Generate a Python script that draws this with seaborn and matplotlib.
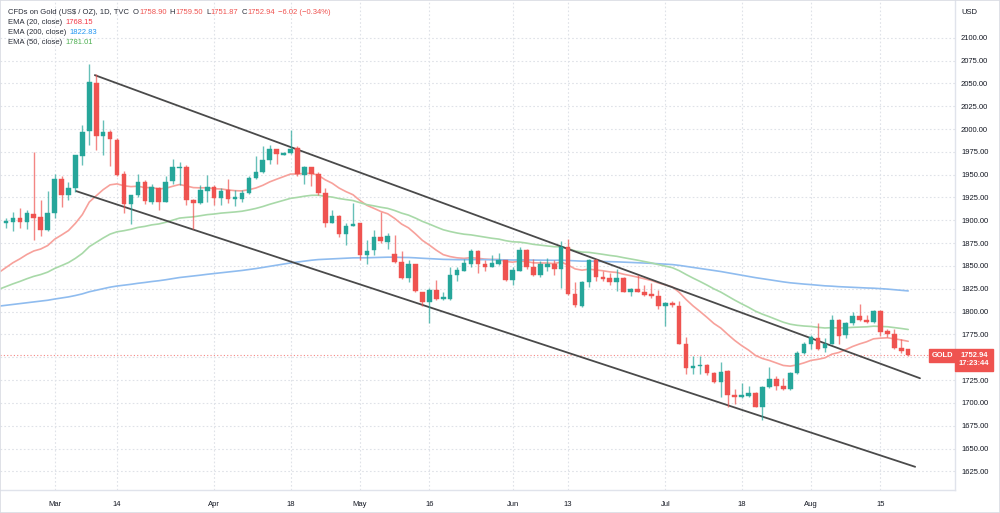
import numpy as np
import pandas as pd
import matplotlib
matplotlib.use("Agg")
import matplotlib.pyplot as plt
import seaborn as sns

# ---------------- data (daily candles, Feb 18 2022 -> Aug 19 2022) ----------------
opens = [1897, 1898, 1903, 1898, 1907, 1904, 1889, 1908, 1945, 1928,
         1935, 1970, 1998, 2050, 1992, 1997, 1988, 1951, 1918, 1928,
         1942, 1920, 1935, 1920, 1943, 1957, 1958, 1922, 1919, 1932,
         1937, 1924, 1933, 1923, 1923, 1930, 1946, 1953, 1966, 1978,
         1972, 1974, 1979, 1950, 1958, 1951, 1930, 1897, 1905, 1885,
         1894, 1897, 1862, 1867, 1882, 1876, 1863, 1854, 1837, 1852,
         1822, 1811, 1824, 1814, 1814, 1840, 1845, 1852, 1866, 1852,
         1849, 1852, 1857, 1835, 1845, 1868, 1849, 1840, 1849, 1852,
         1847, 1871, 1819, 1806, 1832, 1857, 1838, 1837, 1832, 1837,
         1822, 1825, 1822, 1819, 1817, 1806, 1809, 1806, 1764, 1738,
         1740, 1742, 1733, 1723, 1735, 1709, 1706, 1708, 1711, 1696,
         1717, 1726, 1719, 1715, 1733, 1755, 1764, 1771, 1760, 1765,
         1791, 1774, 1788, 1795, 1791, 1789, 1801, 1779, 1775, 1760,
         1758.90]
highs = [1902, 1909, 1913, 1911, 1975, 1922, 1932, 1951, 1948, 1942,
         1972, 2004, 2071, 2060, 2010, 1999, 1990, 1954, 1928, 1951,
         1944, 1940, 1936, 1948, 1967, 1964, 1961, 1923, 1939, 1950,
         1939, 1935, 1945, 1933, 1933, 1948, 1970, 1981, 1983, 1978,
         1975, 1999, 1981, 1959, 1958, 1953, 1935, 1911, 1906, 1897,
         1919, 1897, 1878, 1889, 1909, 1886, 1884, 1866, 1857, 1852,
         1822, 1826, 1835, 1822, 1849, 1849, 1858, 1869, 1867, 1856,
         1862, 1864, 1857, 1849, 1871, 1869, 1858, 1855, 1859, 1856,
         1877, 1879, 1832, 1834, 1858, 1858, 1845, 1842, 1847, 1838,
         1826, 1840, 1829, 1831, 1824, 1810, 1812, 1812, 1772, 1751,
         1751, 1743, 1734, 1745, 1736, 1715, 1722, 1718, 1712, 1718,
         1739, 1730, 1727, 1734, 1757, 1767, 1774, 1787, 1771, 1796,
         1792, 1789, 1800, 1808, 1796, 1802, 1802, 1781, 1781, 1770,
         1759.50]
lows = [1892, 1888, 1892, 1890, 1878, 1883, 1888, 1902, 1915, 1922,
        1931, 1961, 1982, 1977, 1972, 1960, 1949, 1908, 1896, 1926,
        1918, 1918, 1911, 1920, 1940, 1939, 1917, 1891, 1918, 1920,
        1917, 1917, 1919, 1916, 1920, 1929, 1945, 1952, 1962, 1962,
        1971, 1973, 1948, 1940, 1938, 1928, 1893, 1897, 1882, 1873,
        1894, 1857, 1852, 1862, 1875, 1869, 1853, 1836, 1832, 1822,
        1806, 1787, 1813, 1813, 1813, 1833, 1844, 1849, 1842, 1844,
        1849, 1851, 1834, 1829, 1844, 1847, 1839, 1838, 1845, 1840,
        1826, 1818, 1805, 1805, 1827, 1834, 1833, 1829, 1823, 1821,
        1817, 1821, 1817, 1815, 1803, 1784, 1805, 1764, 1732, 1732,
        1732, 1731, 1722, 1706, 1696, 1699, 1705, 1706, 1695, 1681,
        1716, 1714, 1714, 1714, 1732, 1754, 1759, 1758, 1756, 1764,
        1765, 1771, 1785, 1790, 1787, 1787, 1773, 1772, 1759, 1755,
        1751.87]
closes = [1899, 1903, 1898, 1908, 1903, 1889, 1908, 1945, 1928, 1935,
          1972, 1997, 2051, 1992, 1997, 1989, 1950, 1918, 1928, 1942,
          1921, 1936, 1920, 1942, 1958, 1958, 1922, 1919, 1933, 1937,
          1924, 1932, 1923, 1925, 1930, 1946, 1953, 1966, 1978, 1973,
          1974, 1978, 1951, 1958, 1951, 1930, 1897, 1905, 1885, 1894,
          1896, 1862, 1866, 1882, 1877, 1883, 1854, 1837, 1852, 1823,
          1810, 1824, 1814, 1816, 1840, 1846, 1853, 1866, 1852, 1849,
          1853, 1857, 1835, 1846, 1868, 1849, 1840, 1852, 1852, 1847,
          1871, 1819, 1807, 1832, 1857, 1838, 1836, 1832, 1837, 1822,
          1825, 1822, 1818, 1817, 1806, 1809, 1807, 1764, 1738, 1740,
          1742, 1733, 1723, 1734, 1709, 1706, 1709, 1711, 1696, 1717,
          1726, 1718, 1715, 1733, 1755, 1765, 1772, 1759, 1765, 1791,
          1773, 1788, 1795, 1791, 1789, 1801, 1778, 1775, 1760, 1757,
          1752.94]

tick_pos = [7, 16, 30, 41, 51, 61, 73, 81, 95, 106, 116, 126]
tick_labels = ["Mar", "14", "Apr", "18", "May", "16", "Jun", "13", "Jul", "18", "Aug", "15"]
price_ticks = list(range(1625, 2101, 25))

ema_names = ["EMA (20, close)", "EMA (200, close)", "EMA (50, close)"]
ema_periods = [20, 200, 50]
ema_seeds = [1843.0, 1806.0, 1824.5]          # EMA values just before the first bar
ema_colors = ["#f7a19b", "#8fbcef", "#a8d9a8"]
ema_legend = ["1768.15", "1822.83", "1781.01"]
ema_legend_colors = ["#f23645", "#2196f3", "#4caf50"]

channel_upper_x = [12.8, 131.7]
channel_upper_y = [2059.0, 1727.0]
channel_lower_x = [10.1, 131.0]
channel_lower_y = [1932.0, 1630.0]

last_price = 1752.94
change_text = "\u22126.02 (\u22120.34%)"
countdown = "17:23:44"

# ---------------- drawing ----------------
W, H = 1000, 513
sns.set_theme(style="white")
plt.rcParams["font.family"] = ["Liberation Sans", "DejaVu Sans"]
fig = plt.figure(figsize=(W / 100, H / 100), dpi=100)
fig.patch.set_facecolor("white")

AX_R = 955.0     # right edge of the price pane, px
AX_B = 489.6     # bottom edge of the price pane, px
ax = fig.add_axes([0.0, 1 - AX_B / H, AX_R / W, AX_B / H])
ax.set_facecolor("white")

n = len(closes)
idx = np.arange(n)
o = np.array(opens, float); c = np.array(closes, float)
hi = np.array(highs, float); lo = np.array(lows, float)
up = c >= o
green, red = "#26a69a", "#ef5350"
cols = np.where(up, green, red)

grid_c = "#dfe2e8"
for p in price_ticks:
    ax.axhline(p, color=grid_c, lw=0.8, ls=(0, (1.5, 2)), zorder=0)
for t in tick_pos:
    ax.axvline(t, color=grid_c, lw=0.8, ls=(0, (1.5, 2)), zorder=0)

# EMAs
for period, seed, col in zip(ema_periods, ema_seeds, ema_colors):
    a = 2.0 / (period + 1)
    vals = [seed]
    for v in c:
        vals.append(a * v + (1 - a) * vals[-1])
    df = pd.DataFrame({"x": np.arange(-1, n), "y": vals})
    sns.lineplot(data=df, x="x", y="y", ax=ax, color=col, lw=1.2, zorder=2, legend=False)

# channel lines
ax.plot(channel_upper_x, channel_upper_y, color="#4a4a4a", lw=1.3, zorder=3)
ax.plot(channel_lower_x, channel_lower_y, color="#4a4a4a", lw=1.3, zorder=3)

# candles
ax.vlines(idx, lo, hi, colors=cols, lw=1.0, alpha=0.7, zorder=4)
body_h = np.abs(c - o)
body_h = np.where(body_h < 0.8, 0.8, body_h)
ax.bar(idx, body_h, bottom=np.minimum(o, c), width=0.66, color=cols, edgecolor=cols,
       lw=0.3, zorder=5)

# last price line
ax.axhline(last_price, color=red, lw=0.8, ls=(0, (1, 2)), alpha=0.7, zorder=1)

ax.set_xlim(-6 / 6.94, (AX_R - 6) / 6.94)
ax.set_ylim(1900 - (AX_B - 220.3) / 0.913, 1900 + 220.3 / 0.913)
ax.set_xticks(tick_pos)
ax.set_xticklabels(tick_labels)
ax.set_yticks(price_ticks)
# the 1750 label is hidden under the last-price box in the reference
ax.set_yticklabels(["" if abs(p - last_price) < 10 else f"{p:.2f}" for p in price_ticks])
ax.yaxis.tick_right()
ax.tick_params(axis="y", length=0, pad=4.3, labelsize=5.5, labelcolor="#131722")
ax.tick_params(axis="x", length=0, pad=8, labelsize=5.5, labelcolor="#131722")
ax.set_xlabel(""); ax.set_ylabel("")
for s in ["top", "left"]:
    ax.spines[s].set_visible(False)
for s in ["right", "bottom"]:
    ax.spines[s].set_color("#e0e3eb")
    ax.spines[s].set_linewidth(1.0)
ax.grid(False)

# price labels on axis (figure pixel coords)
def fx(px): return px / W
def fy(py): return 1 - py / H

y_lp = 220.3 + (1900 - last_price) * 0.913
fig.text(fx(942), fy(y_lp + 1), "GOLD", color="white", fontsize=5.4, fontweight="bold",
         va="center", ha="center",
         bbox=dict(boxstyle="square,pad=0.35", fc=red, ec=red))
fig.text(fx(974), fy(y_lp + 5), f"{last_price:.2f}" + "\n" + countdown,
         color="white", fontsize=5.4, fontweight="bold", va="center", ha="center",
         linespacing=1.25,
         bbox=dict(boxstyle="square,pad=0.45", fc=red, ec=red))

fig.text(fx(961), fy(12), "USD", fontsize=5.5, color="#131722", va="center", ha="left")

# legend lines
renderer = fig.canvas.get_renderer()
dark = "#2a2e39"

def seq(x_px, y_px, parts, size=5.5):
    x = x_px
    for s, col, gap in parts:
        t = fig.text(fx(x), fy(y_px), s, color=col, fontsize=size, va="center", ha="left")
        bb = t.get_window_extent(renderer=renderer)
        x += bb.width + gap

seq(8, 12, [("CFDs on Gold (US$ / OZ), 1D, TVC", dark, 4),
            ("O", dark, 0.3), (f"{opens[-1]:.2f}", red, 3),
            ("H", dark, 0.3), (f"{highs[-1]:.2f}", red, 3),
            ("L", dark, 0.3), (f"{lows[-1]:.2f}", red, 3),
            ("C", dark, 0.3), (f"{closes[-1]:.2f}", red, 3),
            (change_text, red, 0)])
for k, (nm, val, vc) in enumerate(zip(ema_names, ema_legend, ema_legend_colors)):
    seq(8, 22.5 + k * 10.2, [(nm, dark, 3), (val, vc, 0)])

# outer border
fig.add_artist(plt.Rectangle((0, 0), 1, 1, transform=fig.transFigure, fill=False,
                             ec="#d9dce3", lw=1.2))

fig.savefig("out.png", dpi=100, facecolor="white")
